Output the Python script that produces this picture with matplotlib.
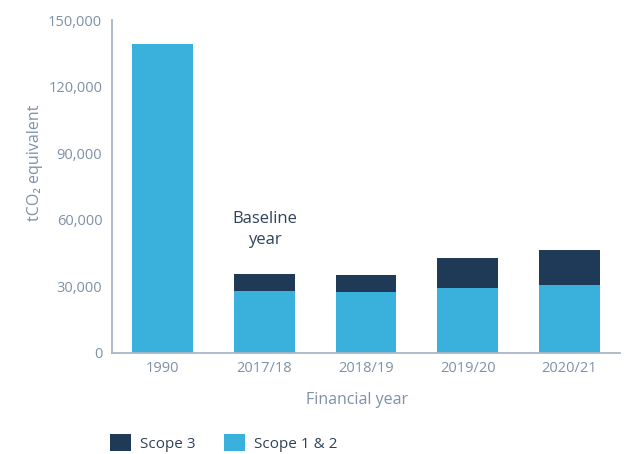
import matplotlib
matplotlib.use("Agg")
import matplotlib.pyplot as plt
import numpy as np

categories = ["1990", "2017/18", "2018/19", "2019/20", "2020/21"]
scope12 = [139000, 28000, 27600, 29400, 30700]
scope3 = [0, 7700, 7700, 13500, 15800]
yticks = [0, 30000, 60000, 90000, 120000, 150000]

plt.rcParams['font.family'] = ['Open Sans', 'DejaVu Sans']

light = "#3AB1DD"
dark = "#1E3A57"
tickc = "#7D91A8"
textc = "#2F4259"

W, H = 636, 454
fig = plt.figure(figsize=(W/100, H/100), dpi=100)
ax = fig.add_axes([112/W, 1-353/H, (620-112)/W, (353-20)/H])

x = np.arange(len(categories))
ax.bar(x, scope12, width=0.6, color=light, label="Scope 1 & 2", zorder=2)
ax.bar(x, scope3, width=0.6, bottom=scope12, color=dark, label="Scope 3", zorder=2)

ax.set_xlim(-0.5, 4.5)
ax.set_ylim(0, 150000)
ax.set_yticks(yticks)
ax.set_yticklabels([f"{v:,}" for v in yticks])
ax.set_xticks(x)
ax.set_xticklabels(categories)
ax.tick_params(axis='both', length=0, labelsize=10.5, colors=tickc)
ax.tick_params(axis='y', pad=7)
ax.tick_params(axis='x', pad=6)
for s in ["top", "right"]:
    ax.spines[s].set_visible(False)
for s in ["left", "bottom"]:
    ax.spines[s].set_color("#A9B6C6")
    ax.spines[s].set_linewidth(1.3)

ax.text(1, 55500, "Baseline\nyear", ha="center", va="center", fontsize=12,
        color=textc, linespacing=1.4, fontweight="medium")

fig.text(35/W, 1-163/H, "tCO₂ equivalent", rotation=90, ha="center", va="center",
         fontsize=11.5, color=tickc)
fig.text(357/W, 1-400/H, "Financial year", ha="center", va="center",
         fontsize=11.5, color=tickc)

handles, labels = ax.get_legend_handles_labels()
order = [1, 0]
leg = fig.legend([handles[i] for i in order], [labels[i] for i in order],
                 loc="center left", bbox_to_anchor=(110/W, 1-443/H), ncol=2,
                 frameon=False, fontsize=11, handlelength=1.35, handleheight=1.35,
                 handletextpad=0.6, columnspacing=1.9, borderpad=0, borderaxespad=0)
for t in leg.get_texts():
    t.set_color(textc)

fig.savefig("out.png", dpi=100)
